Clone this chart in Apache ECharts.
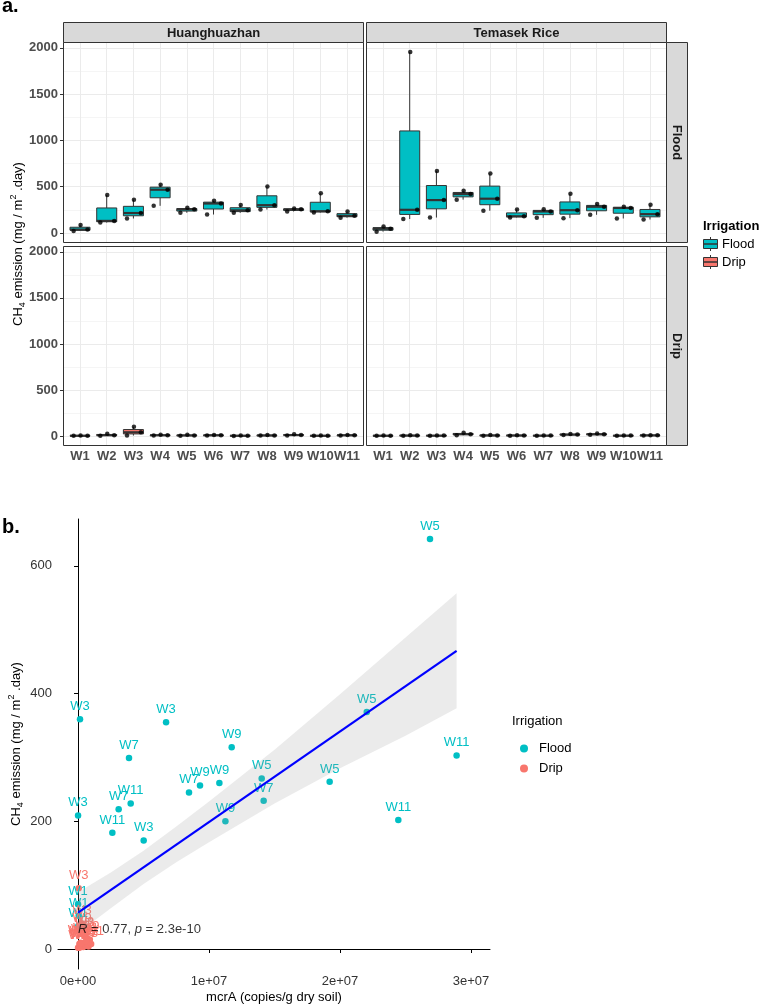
<!DOCTYPE html>
<html>
<head>
<meta charset="utf-8">
<script src="https://cdn.jsdelivr.net/npm/echarts@6/dist/echarts.min.js"></script>
<style>
html, body { margin: 0; padding: 0; background: #fff; }
#main { width: 759px; height: 1005px; }
</style>
</head>
<body>
<div id="main"></div>
<script>
// ---- data ----
var weeks = ['W1', 'W2', 'W3', 'W4', 'W5', 'W6', 'W7', 'W8', 'W9', 'W10', 'W11'];
var varieties = ['Huanghuazhan', 'Temasek Rice'];
var irrigations = ['Flood', 'Drip'];

// CH4 emission replicates per week (mg/m2.day), panel a
var hhzFlood = [[87, 36, 22], [410, 130, 112], [360, 215, 156], [522, 467, 293], [272, 255, 218], [348, 318, 199],
                [301, 244, 217], [503, 300, 253], [264, 255, 232], [428, 235, 220], [232, 185, 165]];
var tmkFlood = [[70, 45, 14], [1955, 250, 150], [670, 355, 166], [455, 420, 360], [642, 370, 240], [253, 180, 168],
                [255, 232, 163], [424, 246, 160], [312, 283, 196], [283, 270, 156], [304, 203, 145]];
var hhzDrip = [[5, 3, 2], [25, 8, 3], [100, 40, 5], [12, 8, 5], [12, 6, 3], [10, 8, 5],
               [5, 3, 1], [10, 6, 4], [18, 10, 6], [4, 3, 2], [10, 8, 6]];
var tmkDrip = [[5, 3, 2], [7, 5, 3], [6, 4, 2], [35, 20, 8], [10, 6, 3], [8, 6, 3],
               [6, 4, 2], [22, 15, 10], [28, 18, 12], [5, 4, 2], [9, 7, 4]];
var jitter = [0.02, 0.28, -0.24];

var yTicksA = [0, 500, 1000, 1500, 2000];
var yMinorA = [250, 750, 1250, 1750];

// panel b: mcrA vs CH4
var floodX = [0.15e6, 6.72e6, 11.73e6, 3.89e6, 8.47e6, 9.31e6, 10.79e6, 14.02e6, 14.17e6, 11.25e6, 4.02e6, 3.1e6,
              0, 2.62e6, 5.01e6, 26.87e6, 22.04e6, 28.9e6, 19.21e6, 24.45e6, 0, 0.05e6, 0.02e6];
var floodY = [360, 355, 316, 299, 245, 256, 260, 267, 232, 200, 228, 219, 209, 182, 170, 642, 371, 303, 262, 202, 70, 52, 36];
var floodWeek = ['W3', 'W3', 'W9', 'W7', 'W7', 'W9', 'W9', 'W5', 'W7', 'W9', 'W11', 'W7',
                 'W3', 'W11', 'W3', 'W5', 'W5', 'W11', 'W5', 'W11', 'W1', 'W1', 'W1'];
var dripX = [0.05e6, 0, 0.2e6, 0.1e6, 0.3e6, 0.5e6, 0.1e6, 0.6e6, 0.2e6, 0.8e6, 0.4e6, 0.1e6, 0.7e6, 0.9e6, 0.3e6, 0.5e6, 0.2e6, 0.6e6, 1.0e6];
var dripY = [95, 2, 5, 3, 40, 22, 8, 6, 10, 4, 3, 2, 5, 15, 28, 20, 9, 12, 8];
var dripWeek = ['W3', 'W1', 'W1', 'W1', 'W3', 'W3', 'W3', 'W5', 'W5', 'W5', 'W7', 'W7', 'W7', 'W9', 'W9', 'W9', 'W11', 'W11', 'W11'];

var fitX = [0, 28.9e6];
var fitY = [57, 467];
var bandX = [0, 2.5e6, 5e6, 7.5e6, 10e6, 15e6, 20e6, 25e6, 28.9e6];
var bandLow = [25, 64, 102, 136, 167, 228, 283, 334, 377];
var bandHigh = [89, 120, 154, 192, 231, 312, 399, 488, 557];

var xTicksB = [0, 1e7, 2e7, 3e7];
var xTickLabelsB = ['0e+00', '1e+07', '2e+07', '3e+07'];
var yTicksB = [0, 200, 400, 600];
var corText = ['R', ' = 0.77, ', 'p', ' = 2.3e-10'];
var corPos = [0, 31];

// ---- chart ----
var FONT = '"Liberation Sans", Arial, sans-serif';
var colors = { Flood: '#00BFC4', Drip: '#F8766D' };
var myChart = echarts.init(document.getElementById('main'));

function quantile(s, p) {
    var h = (s.length - 1) * p, lo = Math.floor(h);
    var hi = Math.min(lo + 1, s.length - 1);
    return s[lo] + (h - lo) * (s[hi] - s[lo]);
}

function boxStats(values) {
    return values.map(function (v, i) {
        var s = v.slice().sort(function (a, b) { return a - b; });
        return [i + 1, s[0], quantile(s, 0.25), quantile(s, 0.5), quantile(s, 0.75), s[s.length - 1]];
    });
}

function boxRender(color) {
    return function (params, api) {
        var x = api.value(0);
        var w = api.size([0.75, 0])[0];
        var lo = api.coord([x, api.value(1)]);
        var q1 = api.coord([x, api.value(2)]);
        var med = api.coord([x, api.value(3)]);
        var q3 = api.coord([x, api.value(4)]);
        var hi = api.coord([x, api.value(5)]);
        var ls = { stroke: '#333333', lineWidth: 1 };
        return {
            type: 'group',
            children: [
                { type: 'line', shape: { x1: lo[0], y1: lo[1], x2: q1[0], y2: q1[1] }, style: ls },
                { type: 'line', shape: { x1: q3[0], y1: q3[1], x2: hi[0], y2: hi[1] }, style: ls },
                { type: 'rect', shape: { x: q1[0] - w / 2, y: q3[1], width: w, height: Math.max(q1[1] - q3[1], 0.5) },
                  style: { fill: color, stroke: '#333333', lineWidth: 1 } },
                { type: 'line', shape: { x1: med[0] - w / 2, y1: med[1], x2: med[0] + w / 2, y2: med[1] },
                  style: { stroke: '#333333', lineWidth: 2.2 } }
            ]
        };
    };
}

var panelsA = [
    { box: { left: 64, top: 43, width: 299, height: 199 }, values: hhzFlood, irr: 'Flood', showX: false, showY: true },
    { box: { left: 367, top: 43, width: 299, height: 199 }, values: tmkFlood, irr: 'Flood', showX: false, showY: false },
    { box: { left: 64, top: 247, width: 299, height: 198 }, values: hhzDrip, irr: 'Drip', showX: true, showY: true },
    { box: { left: 367, top: 247, width: 299, height: 198 }, values: tmkDrip, irr: 'Drip', showX: true, showY: false }
];
var weekPos = weeks.map(function (w, i) { return i + 1; });

var grids = [], xAxes = [], yAxes = [], series = [], graphics = [];

panelsA.forEach(function (p, i) {
    grids.push(p.box);
    xAxes.push({
        type: 'value', gridIndex: i, min: 0.4, max: 11.6,
        axisLine: { show: false }, splitLine: { show: false },
        axisTick: { show: p.showX, customValues: weekPos, length: 4, lineStyle: { color: '#333' } },
        axisLabel: {
            show: p.showX, customValues: weekPos, margin: 5,
            formatter: function (v) { return weeks[Math.round(v) - 1]; },
            fontFamily: FONT, fontSize: 13, fontWeight: 'bold', color: '#4d4d4d'
        }
    });
    yAxes.push({
        type: 'value', gridIndex: i, min: -98, max: 2053,
        axisLine: { show: false }, splitLine: { show: false },
        axisTick: { show: p.showY, customValues: yTicksA, length: 4, lineStyle: { color: '#333' } },
        axisLabel: {
            show: p.showY, customValues: yTicksA, margin: 6,
            formatter: function (v) { return String(v); },
            fontFamily: FONT, fontSize: 13, fontWeight: 'bold', color: '#4d4d4d'
        }
    });
    var gl = [];
    yTicksA.forEach(function (v) { gl.push({ yAxis: v, lineStyle: { width: 1 } }); });
    yMinorA.forEach(function (v) { gl.push({ yAxis: v, lineStyle: { width: 0.5 } }); });
    weekPos.forEach(function (v) { gl.push({ xAxis: v, lineStyle: { width: 1 } }); });
    series.push({
        type: 'custom', xAxisIndex: i, yAxisIndex: i, z: 3,
        renderItem: boxRender(colors[p.irr]),
        encode: { x: 0, y: [1, 2, 3, 4, 5] },
        data: boxStats(p.values),
        markLine: {
            silent: true, z: 1, symbol: ['none', 'none'], animation: false,
            label: { show: false },
            lineStyle: { color: '#ebebeb', type: 'solid' },
            data: gl
        }
    });
    var pts = [];
    p.values.forEach(function (v, wi) {
        v.forEach(function (y, k) { pts.push([wi + 1 + jitter[k], y]); });
    });
    series.push({
        type: 'scatter', xAxisIndex: i, yAxisIndex: i, z: 4,
        symbolSize: 4.5, itemStyle: { color: '#000' }, data: pts
    });
    // panel border
    graphics.push({
        type: 'rect', z: 100, silent: true,
        shape: { x: p.box.left - 0.5, y: p.box.top - 0.5, width: p.box.width + 1, height: p.box.height + 1 },
        style: { fill: 'none', stroke: '#333333', lineWidth: 1 }
    });
});

// panel b grid
grids.push({ left: 58, top: 519, width: 432, height: 450 });
xAxes.push({
    type: 'value', gridIndex: 4, min: -1.53e6, max: 3.145e7,
    splitLine: { show: false },
    axisLine: { lineStyle: { color: '#000', width: 1 } },
    axisTick: { customValues: xTicksB, length: 4, lineStyle: { color: '#000' } },
    axisLabel: {
        customValues: xTicksB, margin: 6,
        formatter: function (v) { return xTickLabelsB[xTicksB.indexOf(v)]; },
        fontFamily: FONT, fontSize: 13, color: '#333'
    }
});
yAxes.push({
    type: 'value', gridIndex: 4, min: -31.3, max: 673.4,
    splitLine: { show: false },
    axisLine: { lineStyle: { color: '#000', width: 1 } },
    axisTick: { customValues: yTicksB, length: 4, lineStyle: { color: '#000' } },
    axisLabel: { customValues: yTicksB, margin: 6, fontFamily: FONT, fontSize: 13, color: '#333' }
});

function pointData(xs, ys, names) {
    return xs.map(function (x, i) { return { value: [x, ys[i]], name: names[i] }; });
}
irrigations.forEach(function (irr) {
    series.push({
        name: irr, type: 'scatter', xAxisIndex: 4, yAxisIndex: 4, z: 2,
        symbolSize: 6.5, itemStyle: { color: colors[irr], opacity: 1 },
        data: irr === 'Flood' ? pointData(floodX, floodY, floodWeek) : pointData(dripX, dripY, dripWeek),
        label: {
            show: true, position: 'top', distance: 3,
            formatter: '{b}', color: colors[irr], fontFamily: FONT, fontSize: 13
        },
        labelLayout: { hideOverlap: false }
    });
});

series.push({
    type: 'custom', xAxisIndex: 4, yAxisIndex: 4, z: 5, silent: true,
    data: [0],
    renderItem: function (params, api) {
        var up = [], dn = [];
        bandX.forEach(function (x, i) {
            up.push(api.coord([x, bandHigh[i]]));
            dn.unshift(api.coord([x, bandLow[i]]));
        });
        return { type: 'polygon', shape: { points: up.concat(dn) }, style: { fill: 'rgba(153,153,153,0.2)' } };
    }
});
series.push({
    type: 'line', xAxisIndex: 4, yAxisIndex: 4, z: 6, symbol: 'none', silent: true,
    lineStyle: { color: '#0000ff', width: 2.2 },
    data: fitX.map(function (x, i) { return [x, fitY[i]]; })
});
series.push({
    type: 'scatter', xAxisIndex: 4, yAxisIndex: 4, z: 7, symbolSize: 0, silent: true,
    data: [corPos],
    label: {
        show: true, position: 'right', distance: 0,
        formatter: '{i|' + corText[0] + '}{n|' + corText[1] + '}{i|' + corText[2] + '}{n|' + corText[3] + '}',
        rich: {
            i: { fontStyle: 'italic', fontFamily: FONT, fontSize: 13, color: '#000' },
            n: { fontFamily: FONT, fontSize: 13, color: '#000' }
        }
    }
});

// strips
varieties.forEach(function (v, i) {
    var b = panelsA[i].box;
    graphics.push({
        type: 'rect', z: 100, silent: true,
        shape: { x: b.left - 0.5, y: 22.5, width: b.width + 1, height: b.top - 23 },
        style: { fill: '#d9d9d9', stroke: '#333333', lineWidth: 1 }
    });
    graphics.push({
        type: 'text', z: 101, silent: true, x: b.left + b.width / 2, y: 33,
        style: { text: v, font: 'bold 13px ' + FONT, fill: '#1a1a1a', align: 'center', verticalAlign: 'middle' }
    });
});
irrigations.forEach(function (irr, k) {
    var b = panelsA[1 + 2 * k].box;
    graphics.push({
        type: 'rect', z: 100, silent: true,
        shape: { x: b.left + b.width + 0.5, y: b.top - 0.5, width: 21, height: b.height + 1 },
        style: { fill: '#d9d9d9', stroke: '#333333', lineWidth: 1 }
    });
    graphics.push({
        type: 'text', z: 101, silent: true, x: b.left + b.width + 11, y: b.top + b.height / 2,
        rotation: -Math.PI / 2,
        style: { text: irr, font: 'bold 13px ' + FONT, fill: '#1a1a1a', align: 'center', verticalAlign: 'middle' }
    });
});

// legend of panel a
graphics.push({
    type: 'text', x: 703, y: 226,
    style: { text: 'Irrigation', font: 'bold 13px ' + FONT, fill: '#000', align: 'left', verticalAlign: 'middle' }
});
irrigations.forEach(function (irr, k) {
    var cy = 244 + k * 18;
    graphics.push({ type: 'line', shape: { x1: 710.5, y1: cy - 7, x2: 710.5, y2: cy + 7 }, style: { stroke: '#333', lineWidth: 1 } });
    graphics.push({ type: 'rect', shape: { x: 703.5, y: cy - 4.5, width: 14, height: 9 }, style: { fill: colors[irr], stroke: '#333', lineWidth: 1 } });
    graphics.push({ type: 'line', shape: { x1: 703.5, y1: cy, x2: 717.5, y2: cy }, style: { stroke: '#333', lineWidth: 1.5 } });
    graphics.push({
        type: 'text', x: 722, y: cy,
        style: { text: irr, font: '13px ' + FONT, fill: '#000', align: 'left', verticalAlign: 'middle' }
    });
});

// y titles
var yTitle = '{n|CH}{s|4}{n| emission (mg / m}{p|2}{n| .day)}';
var yTitleRich = {
    n: { fontFamily: FONT, fontSize: 13, fill: '#000', lineHeight: 18, verticalAlign: 'middle' },
    s: { fontFamily: FONT, fontSize: 9, fill: '#000', lineHeight: 18, verticalAlign: 'bottom' },
    p: { fontFamily: FONT, fontSize: 9, fill: '#000', lineHeight: 18, verticalAlign: 'top' }
};
[[18, 244], [16, 744]].forEach(function (c) {
    graphics.push({
        type: 'text', x: c[0], y: c[1], rotation: Math.PI / 2,
        style: { text: yTitle, rich: yTitleRich, align: 'center', verticalAlign: 'middle' }
    });
});
graphics.push({
    type: 'text', x: 274, y: 997,
    style: { text: 'mcrA (copies/g dry soil)', font: '13px ' + FONT, fill: '#000', align: 'center', verticalAlign: 'middle' }
});
graphics.push({
    type: 'text', x: 2, y: 6,
    style: { text: 'a.', font: 'bold 20px ' + FONT, fill: '#000', align: 'left', verticalAlign: 'middle' }
});
graphics.push({
    type: 'text', x: 2, y: 527,
    style: { text: 'b.', font: 'bold 20px ' + FONT, fill: '#000', align: 'left', verticalAlign: 'middle' }
});
graphics.push({
    type: 'text', x: 512, y: 721,
    style: { text: 'Irrigation', font: '13px ' + FONT, fill: '#000', align: 'left', verticalAlign: 'middle' }
});

myChart.setOption({
    animation: false,
    backgroundColor: '#fff',
    grid: grids,
    xAxis: xAxes,
    yAxis: yAxes,
    legend: {
        data: [{ name: 'Flood', icon: 'circle' }, { name: 'Drip', icon: 'circle' }],
        orient: 'vertical', left: 515, top: 737,
        itemWidth: 8, itemHeight: 8, itemGap: 7,
        textStyle: { fontFamily: FONT, fontSize: 13, color: '#000', padding: [0, 0, 0, 6] }
    },
    graphic: graphics,
    series: series
});
</script>
</body>
</html>
